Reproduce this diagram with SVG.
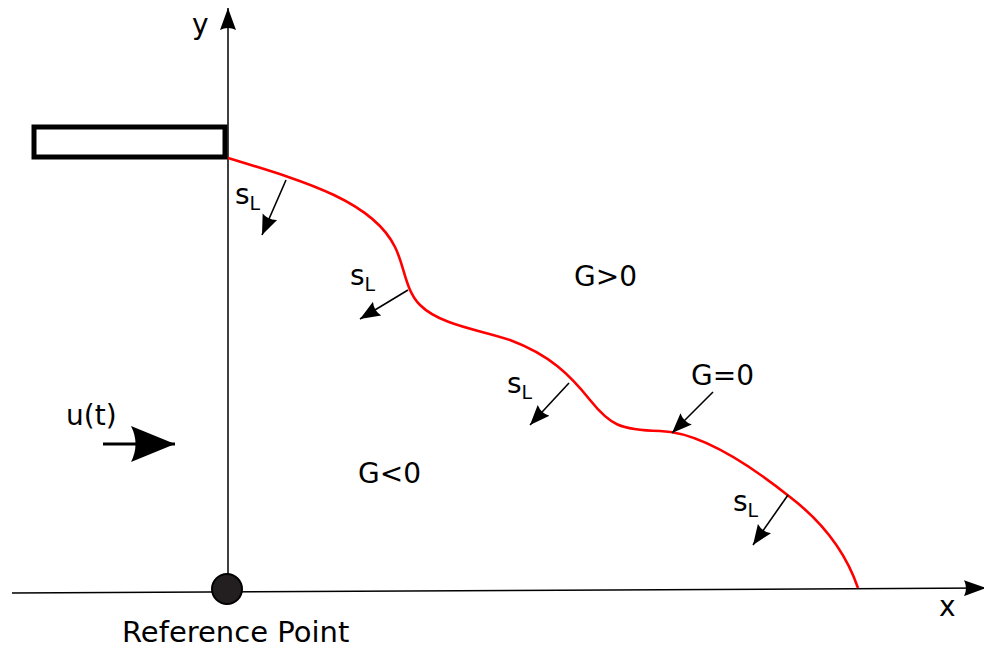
<svg xmlns="http://www.w3.org/2000/svg" width="984" height="649" viewBox="0 0 984 649">
<style>
text{font-family:"DejaVu Sans",sans-serif;font-size:28px;fill:#000}
.sub{font-size:19px}
.ax{stroke:#000;stroke-width:1.5;fill:none}
.sl{stroke:#000;stroke-width:1.6;fill:none;marker-end:url(#ah)}
.front{stroke:#f00;stroke-width:2.6;fill:none}
</style>
<defs>
<marker id="ah" markerUnits="userSpaceOnUse" markerWidth="22" markerHeight="18" refX="20" refY="8" orient="auto" viewBox="0 0 22 16">
<path d="M0,0 L20,8 L0,16 Q4,8 0,0 Z" fill="#000"/>
</marker>
<marker id="axh" markerUnits="userSpaceOnUse" markerWidth="24" markerHeight="16" refX="22" refY="8" orient="auto" viewBox="0 0 24 16">
<path d="M0,0 L22,8 L0,16 Q4,8 0,0 Z" fill="#000"/>
</marker>
<marker id="bigh" markerUnits="userSpaceOnUse" markerWidth="46" markerHeight="38" refX="44" refY="18" orient="auto" viewBox="0 0 46 36">
<path d="M0,0 L44,18 L0,36 Q9,18 0,0 Z" fill="#000"/>
</marker>
</defs>
<g id="axes">
<line class="ax" x1="228" y1="592" x2="228" y2="8" marker-end="url(#axh)"/>
<line class="ax" x1="12" y1="593" x2="986" y2="588" marker-end="url(#axh)"/>
<text x="192" y="34">y</text>
<text x="939" y="616">x</text>
</g>
<g id="wall">
<rect x="34" y="127" width="191" height="30" fill="none" stroke="#000" stroke-width="5"/>
</g>
<g id="front">
<path class="front" d="M228,158 C300,180 372,200 395,247 C405,267 405,290 420,305 C440,325 480,330 510,340 C550,355 570,375 590,400 C610,425 620,430 660,431 C700,432 750,465 790,497 C820,520 845,550 858,588"/>
</g>
<g id="connectors">
<line class="sl" x1="286" y1="180" x2="262" y2="235"/>
<line class="sl" x1="408" y1="290" x2="360" y2="319"/>
<line class="sl" x1="569" y1="383" x2="530" y2="425"/>
<line class="sl" x1="788" y1="495" x2="753" y2="545"/>
<line class="sl" x1="713" y1="392" x2="672" y2="433"/>
<line x1="103" y1="444" x2="175" y2="444" stroke="#000" stroke-width="3" marker-end="url(#bigh)"/>
</g>
<g id="labels">
<text x="235" y="204">s<tspan class="sub" dy="6">L</tspan></text>
<text x="350" y="285">s<tspan class="sub" dy="6">L</tspan></text>
<text x="507" y="393">s<tspan class="sub" dy="6">L</tspan></text>
<text x="733" y="511">s<tspan class="sub" dy="6">L</tspan></text>
<text x="574" y="286">G&gt;0</text>
<text x="691" y="385">G=0</text>
<text x="358" y="483">G&lt;0</text>
<text x="66" y="425">u(t)</text>
<text x="122" y="642" style="font-size:29px">Reference Point</text>
</g>
<g id="refpoint">
<circle cx="227" cy="589" r="15" fill="#231f20" stroke="#000" stroke-width="2"/>
</g>
</svg>
